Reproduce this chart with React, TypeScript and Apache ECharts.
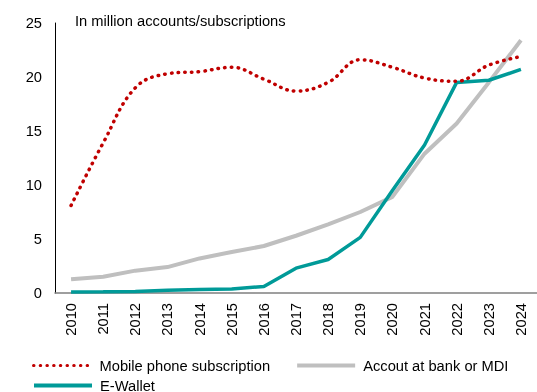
import React, { useEffect, useRef } from "react";
import * as echarts from "echarts";

const years = ["2010","2011","2012","2013","2014","2015","2016","2017","2018","2019","2020","2021","2022","2023","2024"];
const mobile = [8.1, 13.9, 19.0, 20.3, 20.5, 20.9, 19.8, 18.7, 19.5, 21.6, 20.9, 19.9, 19.6, 21.1, 21.9];
const bank = [1.27, 1.5, 2.07, 2.4, 3.2, 3.8, 4.35, 5.3, 6.35, 7.5, 8.9, 12.9, 15.7, 19.5, 23.4];
const ewallet = [0.1, 0.12, 0.15, 0.25, 0.33, 0.38, 0.6, 2.3, 3.1, 5.15, 9.5, 13.7, 19.5, 19.7, 20.7];
const yTicks = { min: 0, max: 25, interval: 5 };
const subtitle = "In million accounts/subscriptions";
const names = ["Mobile phone subscription", "Accout at bank or MDI", "E-Wallet"];

const FONT = "'Liberation Sans', Arial, sans-serif";
const FS = 14.7;
const RED = "#C00000";
const GRAY = "#BFBFBF";
const TEAL = "#009A98";

export default function App() {
  const ref = useRef<HTMLDivElement>(null);
  useEffect(() => {
    if (!ref.current) return;
    const chart = echarts.init(ref.current, null, { renderer: "svg" });
    const legendBase = {
      left: 32,
      padding: 0,
      itemWidth: 58,
      itemHeight: 14,
      itemGap: 25,
      itemStyle: { opacity: 0 },
      textStyle: { fontFamily: FONT, fontSize: FS, color: "#000", padding: [0, 0, 0, 3] },
    };
    chart.setOption({
      animation: false,
      textStyle: { fontFamily: FONT },
      title: {
        text: subtitle,
        left: 75,
        top: 13,
        padding: 0,
        textStyle: { fontFamily: FONT, fontSize: FS, fontWeight: "normal", color: "#000" },
      },
      grid: { left: 55, top: 23, width: 492, height: 270, containLabel: false },
      legend: [
        {
          ...legendBase,
          top: 358,
          data: [
            { name: names[0], lineStyle: { color: RED, width: 3, type: [0.5, 6.2], cap: "round" } },
            { name: names[1], lineStyle: { color: GRAY, width: 4 } },
          ],
        },
        {
          ...legendBase,
          top: 378,
          data: [{ name: names[2], lineStyle: { color: TEAL, width: 4 } }],
        },
      ],
      xAxis: {
        type: "category",
        data: years,
        boundaryGap: true,
        axisLine: { lineStyle: { color: "#7f7f7f", width: 1.5 } },
        axisTick: { show: false },
        axisLabel: {
          rotate: 90,
          margin: 10,
          fontFamily: FONT,
          fontSize: FS,
          color: "#000",
          interval: 0,
        },
        splitLine: { show: false },
      },
      yAxis: {
        type: "value",
        min: yTicks.min,
        max: yTicks.max,
        interval: yTicks.interval,
        axisLine: { show: true, lineStyle: { color: "#000", width: 1 } },
        axisTick: { show: false },
        splitLine: { show: false },
        axisLabel: { margin: 13, fontFamily: FONT, fontSize: FS, color: "#000" },
      },
      series: [
        {
          name: names[0],
          type: "line",
          data: mobile,
          smooth: 0.4,
          symbol: "none",
          showSymbol: false,
          lineStyle: { color: RED, width: 3.5, type: [0.5, 6.2], cap: "round" },
          itemStyle: { color: RED },
          z: 3,
        },
        {
          name: names[1],
          type: "line",
          data: bank,
          symbol: "none",
          showSymbol: false,
          lineStyle: { color: GRAY, width: 4 },
          itemStyle: { color: GRAY },
          z: 1,
        },
        {
          name: names[2],
          type: "line",
          data: ewallet,
          symbol: "none",
          showSymbol: false,
          lineStyle: { color: TEAL, width: 3.5 },
          itemStyle: { color: TEAL },
          z: 2,
        },
      ],
    });
    return () => chart.dispose();
  }, []);
  return <div ref={ref} style={{ width: 537, height: 392, position: "fixed", left: 0, top: 0 }} />;
}
